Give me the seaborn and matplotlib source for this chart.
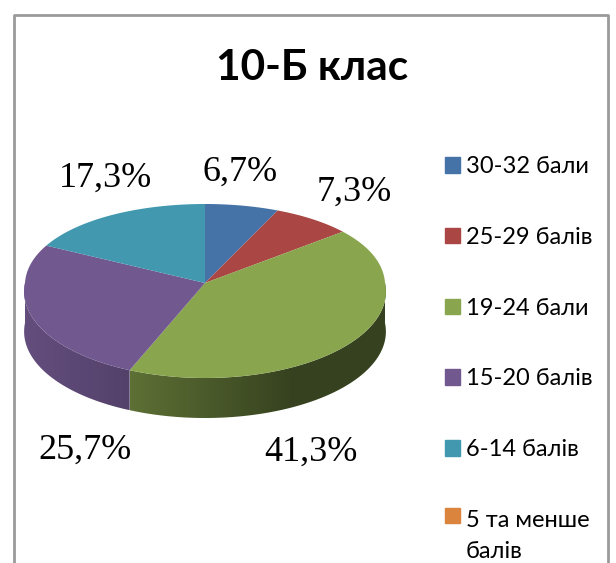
import numpy as np
import matplotlib
matplotlib.use("Agg")
import matplotlib.pyplot as plt
from matplotlib.patches import Patch, Polygon
import seaborn as sns

title = "10-Б клас"
categories = ["30-32 бали", "25-29 балів", "19-24 бали", "15-20 балів", "6-14 балів", "5 та менше\nбалів"]
values = [6.7, 7.3, 41.3, 25.7, 17.3, 0.0]
value_labels = ["6,7%", "7,3%", "41,3%", "25,7%", "17,3%"]
colors = ["#4572a7", "#aa4643", "#89a54e", "#71588f", "#4198af", "#db843d"]

sns.set_theme(style="white")
plt.rcParams["font.family"] = ["Lato", "Noto Sans", "DejaVu Sans"]
palette = sns.color_palette(colors)

# pie geometry in pixels of the picture
cx, cy = 205, 283
rx = 180
depth = 40


def project(theta):
    # fake perspective of the excel 3d pie, near side is bigger
    u = np.sin(theta)
    v = -np.cos(theta)
    k = np.where(v > 0, 0.1, 0.03)
    return cx + rx * u * (1 + k * v), cy + 87 * v + 8 * v ** 2


fig, ax = plt.subplots(figsize=(6.16, 5.63), dpi=100)
ax.set_position([0, 0, 1, 1])

# outer frame, the bottom is cut off in the original
ax.plot([14, 14, 608, 608], [563, 15, 15, 563], color="#9a9a9a", lw=2)

shares = np.array(values) / sum(values)
edges = np.radians(np.cumsum(np.r_[0, shares]) * 360)

# side wall: (slice, x start, x end, brightness start, brightness end)
wall_shades = [(3, 24, 130, 0.88, 0.74), (2, 130, 290, 0.68, 0.40)]
for i, x0, x1, f0, f1 in wall_shades:
    a, b = edges[i], edges[i + 1]
    steps = np.linspace(max(a, np.pi / 2), min(b, 3 * np.pi / 2), 200)
    xs, ys = project(steps)
    outline = np.c_[np.r_[xs, xs[::-1]], np.r_[ys, ys[::-1] + depth]]
    clip = Polygon(outline, closed=True, transform=ax.transData, fc="none", ec="none")
    ax.add_patch(clip)
    left, right = min(xs.min(), x0), max(xs.max(), x1)
    grid = np.linspace(left, right, 512)
    ramp_img = np.interp(grid, [x0, x1], [f0, f1])[None, :, None] * np.array(palette[i])[None, None, :]
    im = ax.imshow(ramp_img, extent=(left, right, 563, 0), aspect="auto", interpolation="bilinear")
    im.set_clip_path(clip)

# top face
for i, (a, b) in enumerate(zip(edges[:-1], edges[1:])):
    if b <= a:
        continue
    xs, ys = project(np.linspace(a, b, 120))
    ax.fill(np.r_[cx, xs], np.r_[cy, ys], color=palette[i], lw=0)

ax.set_xlim(0, 616)
ax.set_ylim(563, 0)
ax.axis("off")

ax.text(312, 68, title, fontsize=30.5, fontweight="bold", color="black", ha="center", va="center")

label_pos = [(240, 172), (354, 192), (311, 452), (85, 450), (106, 178)]
for txt, (x, y) in zip(value_labels, label_pos):
    ax.text(x, y, txt, fontsize=26, family="Liberation Serif", color="black", ha="center", va="center")

handles = [Patch(color=c, label=n) for c, n in zip(palette, categories)]
leg = ax.legend(handles=handles, loc="upper left", bbox_to_anchor=(445, 156), bbox_transform=ax.transData,
                frameon=False, fontsize=17, handlelength=0.64, handleheight=0.64, handletextpad=0.25,
                labelspacing=2.11, borderpad=0, borderaxespad=0, labelcolor="black")
for t in leg.get_texts():
    t.set_linespacing(1.6)
# keep the last marker level with the first line of its two line label
last = leg.legend_handles[-1]
last.set_y(last.get_y() + 15)

plt.savefig("out.png", dpi=100)
